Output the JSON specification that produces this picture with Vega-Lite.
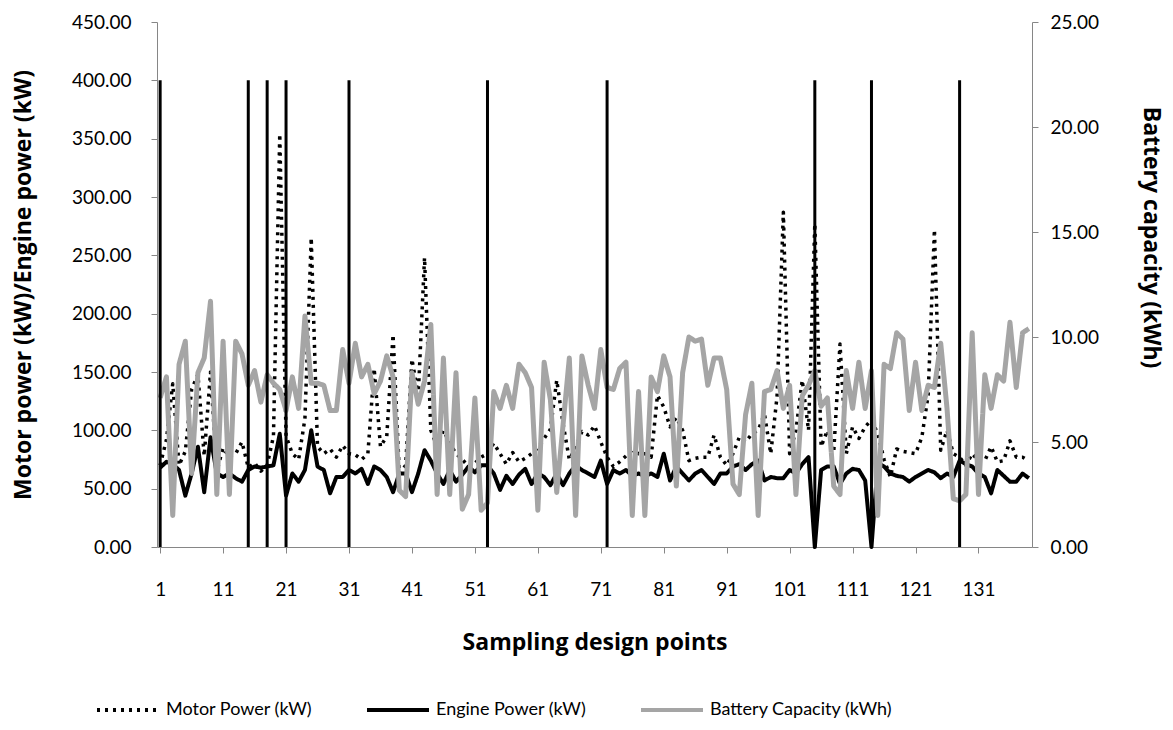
{
  "$schema": "https://vega.github.io/schema/vega-lite/v6.json",
  "width": 875,
  "height": 525,
  "autosize": {"type": "none"},
  "padding": {"left": 157, "top": 22, "right": 141, "bottom": 183},
  "background": "white",
  "config": {
    "font": "Lato",
    "view": {"stroke": null},
    "axis": {"grid": false, "domainColor": "#868686", "tickColor": "#868686", "labelColor": "#000000", "titleColor": "#000000", "labelFontSize": 19, "titleFontSize": 23, "titleFontWeight": "bold", "labelFont": "Lato", "titleFont": "Open Sans", "tickSize": 6}
  },
  "datasets": {
    "main": [
      {"c":1,"motor":70,"engine":68,"battery":7.1},{"c":2,"motor":92,"engine":73,"battery":8.1},{"c":3,"motor":140,"engine":71,"battery":1.5},{"c":4,"motor":70,"engine":66,"battery":8.7},{"c":5,"motor":82,"engine":44,"battery":9.8},
      {"c":6,"motor":135,"engine":63,"battery":3.5},{"c":7,"motor":148,"engine":86,"battery":8.3},{"c":8,"motor":78,"engine":47,"battery":9.0},{"c":9,"motor":150,"engine":94,"battery":11.7},{"c":10,"motor":65,"engine":63,"battery":2.5},
      {"c":11,"motor":85,"engine":60,"battery":9.8},{"c":12,"motor":77,"engine":63,"battery":2.5},{"c":13,"motor":80,"engine":59,"battery":9.8},{"c":14,"motor":90,"engine":56,"battery":9.2},{"c":15,"motor":68,"engine":66,"battery":7.7},
      {"c":16,"motor":72,"engine":69,"battery":8.4},{"c":17,"motor":65,"engine":68,"battery":6.9},{"c":18,"motor":70,"engine":69,"battery":8.2},{"c":19,"motor":95,"engine":70,"battery":7.8},{"c":20,"motor":354,"engine":97,"battery":7.5},
      {"c":21,"motor":95,"engine":44,"battery":6.5},{"c":22,"motor":80,"engine":63,"battery":8.1},{"c":23,"motor":75,"engine":56,"battery":6.6},{"c":24,"motor":110,"engine":66,"battery":11.0},{"c":25,"motor":265,"engine":100,"battery":7.8},
      {"c":26,"motor":86,"engine":69,"battery":7.8},{"c":27,"motor":80,"engine":66,"battery":7.7},{"c":28,"motor":84,"engine":46,"battery":6.5},{"c":29,"motor":77,"engine":60,"battery":6.5},{"c":30,"motor":87,"engine":60,"battery":9.4},
      {"c":31,"motor":80,"engine":66,"battery":7.8},{"c":32,"motor":79,"engine":63,"battery":9.7},{"c":33,"motor":75,"engine":67,"battery":8.1},{"c":34,"motor":80,"engine":54,"battery":8.7},{"c":35,"motor":153,"engine":69,"battery":7.3},
      {"c":36,"motor":86,"engine":66,"battery":7.9},{"c":37,"motor":95,"engine":60,"battery":9.1},{"c":38,"motor":182,"engine":47,"battery":8.1},{"c":39,"motor":63,"engine":63,"battery":2.7},{"c":40,"motor":70,"engine":63,"battery":2.4},
      {"c":41,"motor":161,"engine":47,"battery":8.3},{"c":42,"motor":130,"engine":63,"battery":6.8},{"c":43,"motor":248,"engine":83,"battery":7.9},{"c":44,"motor":100,"engine":74,"battery":10.6},{"c":45,"motor":86,"engine":63,"battery":2.5},
      {"c":46,"motor":100,"engine":54,"battery":9.0},{"c":47,"motor":89,"engine":66,"battery":2.5},{"c":48,"motor":80,"engine":56,"battery":8.3},{"c":49,"motor":75,"engine":62,"battery":1.8},{"c":50,"motor":69,"engine":69,"battery":2.5},
      {"c":51,"motor":72,"engine":64,"battery":7.1},{"c":52,"motor":77,"engine":70,"battery":1.75},{"c":53,"motor":80,"engine":70,"battery":2.1},{"c":54,"motor":89,"engine":63,"battery":7.4},{"c":55,"motor":80,"engine":49,"battery":6.6},
      {"c":56,"motor":71,"engine":61,"battery":7.7},{"c":57,"motor":81,"engine":54,"battery":6.6},{"c":58,"motor":73,"engine":62,"battery":8.7},{"c":59,"motor":76,"engine":67,"battery":8.3},{"c":60,"motor":80,"engine":54,"battery":7.6},
      {"c":61,"motor":85,"engine":63,"battery":1.75},{"c":62,"motor":93,"engine":60,"battery":8.8},{"c":63,"motor":101,"engine":53,"battery":7.0},{"c":64,"motor":143,"engine":63,"battery":2.6},{"c":65,"motor":106,"engine":53,"battery":5.8},
      {"c":66,"motor":75,"engine":63,"battery":9.0},{"c":67,"motor":85,"engine":70,"battery":1.5},{"c":68,"motor":99,"engine":66,"battery":9.1},{"c":69,"motor":96,"engine":63,"battery":7.7},{"c":70,"motor":104,"engine":60,"battery":6.6},
      {"c":71,"motor":90,"engine":74,"battery":9.4},{"c":72,"motor":77,"engine":54,"battery":7.6},{"c":73,"motor":69,"engine":66,"battery":7.5},{"c":74,"motor":73,"engine":63,"battery":8.5},{"c":75,"motor":78,"engine":66,"battery":8.8},
      {"c":76,"motor":83,"engine":61,"battery":1.5},{"c":77,"motor":80,"engine":63,"battery":7.4},{"c":78,"motor":80,"engine":61,"battery":1.5},{"c":79,"motor":77,"engine":63,"battery":8.1},{"c":80,"motor":130,"engine":60,"battery":7.4},
      {"c":81,"motor":120,"engine":80,"battery":9.1},{"c":82,"motor":103,"engine":57,"battery":8.1},{"c":83,"motor":111,"engine":69,"battery":2.9},{"c":84,"motor":100,"engine":63,"battery":8.3},{"c":85,"motor":74,"engine":57,"battery":10.0},
      {"c":86,"motor":76,"engine":63,"battery":9.8},{"c":87,"motor":77,"engine":66,"battery":9.9},{"c":88,"motor":77,"engine":60,"battery":7.7},{"c":89,"motor":96,"engine":54,"battery":9.0},{"c":90,"motor":77,"engine":63,"battery":9.0},
      {"c":91,"motor":70,"engine":63,"battery":7.5},{"c":92,"motor":80,"engine":69,"battery":3.0},{"c":93,"motor":94,"engine":71,"battery":2.5},{"c":94,"motor":90,"engine":66,"battery":6.3},{"c":95,"motor":97,"engine":71,"battery":7.8},
      {"c":96,"motor":100,"engine":74,"battery":1.5},{"c":97,"motor":114,"engine":57,"battery":7.4},{"c":98,"motor":80,"engine":60,"battery":7.5},{"c":99,"motor":129,"engine":59,"battery":8.4},{"c":100,"motor":287,"engine":59,"battery":6.6},
      {"c":101,"motor":80,"engine":66,"battery":7.7},{"c":102,"motor":100,"engine":63,"battery":2.5},{"c":103,"motor":143,"engine":71,"battery":7.2},{"c":104,"motor":100,"engine":77,"battery":7.7},{"c":105,"motor":277,"engine":0,"battery":8.4},
      {"c":106,"motor":86,"engine":66,"battery":6.7},{"c":107,"motor":100,"engine":69,"battery":7.1},{"c":108,"motor":81,"engine":69,"battery":2.9},{"c":109,"motor":174,"engine":54,"battery":2.5},{"c":110,"motor":80,"engine":63,"battery":8.4},
      {"c":111,"motor":103,"engine":67,"battery":6.6},{"c":112,"motor":93,"engine":66,"battery":8.8},{"c":113,"motor":103,"engine":57,"battery":6.6},{"c":114,"motor":109,"engine":0,"battery":8.4},{"c":115,"motor":97,"engine":72,"battery":1.5},
      {"c":116,"motor":75,"engine":69,"battery":8.7},{"c":117,"motor":60,"engine":63,"battery":8.5},{"c":118,"motor":84,"engine":61,"battery":10.2},{"c":119,"motor":82,"engine":60,"battery":9.9},{"c":120,"motor":81,"engine":56,"battery":6.5},
      {"c":121,"motor":80,"engine":60,"battery":8.8},{"c":122,"motor":94,"engine":63,"battery":6.5},{"c":123,"motor":130,"engine":66,"battery":7.7},{"c":124,"motor":272,"engine":64,"battery":7.6},{"c":125,"motor":83,"engine":59,"battery":9.7},
      {"c":126,"motor":100,"engine":63,"battery":6.6},{"c":127,"motor":80,"engine":60,"battery":2.3},{"c":128,"motor":77,"engine":74,"battery":2.2},{"c":129,"motor":70,"engine":71,"battery":2.5},{"c":130,"motor":80,"engine":69,"battery":10.2},
      {"c":131,"motor":74,"engine":63,"battery":2.5},{"c":132,"motor":74,"engine":60,"battery":8.2},{"c":133,"motor":86,"engine":46,"battery":6.6},{"c":134,"motor":73,"engine":66,"battery":8.2},{"c":135,"motor":74,"engine":61,"battery":7.9},
      {"c":136,"motor":91,"engine":56,"battery":10.7},{"c":137,"motor":77,"engine":56,"battery":7.6},{"c":138,"motor":77,"engine":63,"battery":10.2},{"c":139,"motor":74,"engine":59,"battery":10.4}
    ],
    "vlines": [{"c":1},{"c":15},{"c":18},{"c":21},{"c":31},{"c":53},{"c":72},{"c":105},{"c":114},{"c":128}]
  },
  "layer": [
    {
      "data": {"name": "main"},
      "encoding": {
        "x": {"field": "c", "type": "quantitative", "scale": {"domain": [0.5, 139.5], "nice": false, "zero": false},
              "axis": {"values": [1,11,21,31,41,51,61,71,81,91,101,111,121,131], "format": "d", "labelPadding": 27, "title": "Sampling design points", "titlePadding": 32, "labelFlush": false}},
        "y": {"field": "value", "type": "quantitative", "scale": {"domain": [0, 450], "nice": false},
              "axis": {"values": [0,50,100,150,200,250,300,350,400,450], "format": ".2f", "labelPadding": 20, "title": "Motor power (kW)/Engine power (kW)", "titlePadding": 36}},
        "color": {"field": "series", "type": "nominal", "scale": {"domain": ["motor", "engine", "battery"], "range": ["#000000", "#000000", "#a5a5a5"]},
                  "legend": {"title": null, "orient": "none", "legendX": -62, "legendY": 655, "direction": "horizontal", "symbolType": "stroke", "symbolSize": 3844, "symbolStrokeWidth": 4, "labelFontSize": 18, "labelFont": "Lato", "labelLimit": 400, "columnPadding": 46, "labelOffset": 5,
                             "labelExpr": "datum.label == 'motor' ? 'Motor Power (kW)' : datum.label == 'engine' ? 'Engine Power (kW)' : 'Battery Capacity (kWh)'"}},
        "strokeDash": {"field": "series", "type": "nominal", "scale": {"domain": ["motor", "engine", "battery"], "range": [[3, 5], [1, 0], [1, 0]]}, "legend": {"title": null}}
      },
      "layer": [
        {
          "transform": [{"fold": ["motor"], "as": ["series", "value"]}],
          "mark": {"type": "line", "strokeJoin": "round", "strokeWidth": 3.5}
        },
        {
          "transform": [{"fold": ["engine"], "as": ["series", "value"]}],
          "mark": {"type": "line", "strokeJoin": "round", "strokeWidth": 4}
        }
      ]
    },
    {
      "data": {"name": "main"},
      "transform": [{"fold": ["battery"], "as": ["series", "value"]}],
      "mark": {"type": "line", "strokeJoin": "round", "strokeWidth": 5},
      "encoding": {
        "x": {"field": "c", "type": "quantitative", "scale": {"domain": [0.5, 139.5], "nice": false, "zero": false}},
        "y": {"field": "value", "type": "quantitative", "scale": {"domain": [0, 25], "nice": false},
              "axis": {"orient": "right", "values": [0,5,10,15,20,25], "format": ".2f", "labelPadding": 12, "title": "Battery capacity (kWh)", "titlePadding": 40, "titleY": 215}},
        "color": {"field": "series", "type": "nominal", "legend": {"title": null}},
        "strokeDash": {"field": "series", "type": "nominal", "legend": {"title": null}}
      }
    },
    {
      "data": {"name": "vlines"},
      "mark": {"type": "rule", "color": "#000000", "strokeWidth": 3},
      "encoding": {
        "x": {"field": "c", "type": "quantitative", "scale": {"domain": [0.5, 139.5], "nice": false, "zero": false}},
        "y": {"datum": 0, "type": "quantitative", "scale": {"domain": [0, 450], "nice": false}, "axis": null},
        "y2": {"datum": 400}
      }
    }
  ],
  "resolve": {"scale": {"y": "independent"}}
}
